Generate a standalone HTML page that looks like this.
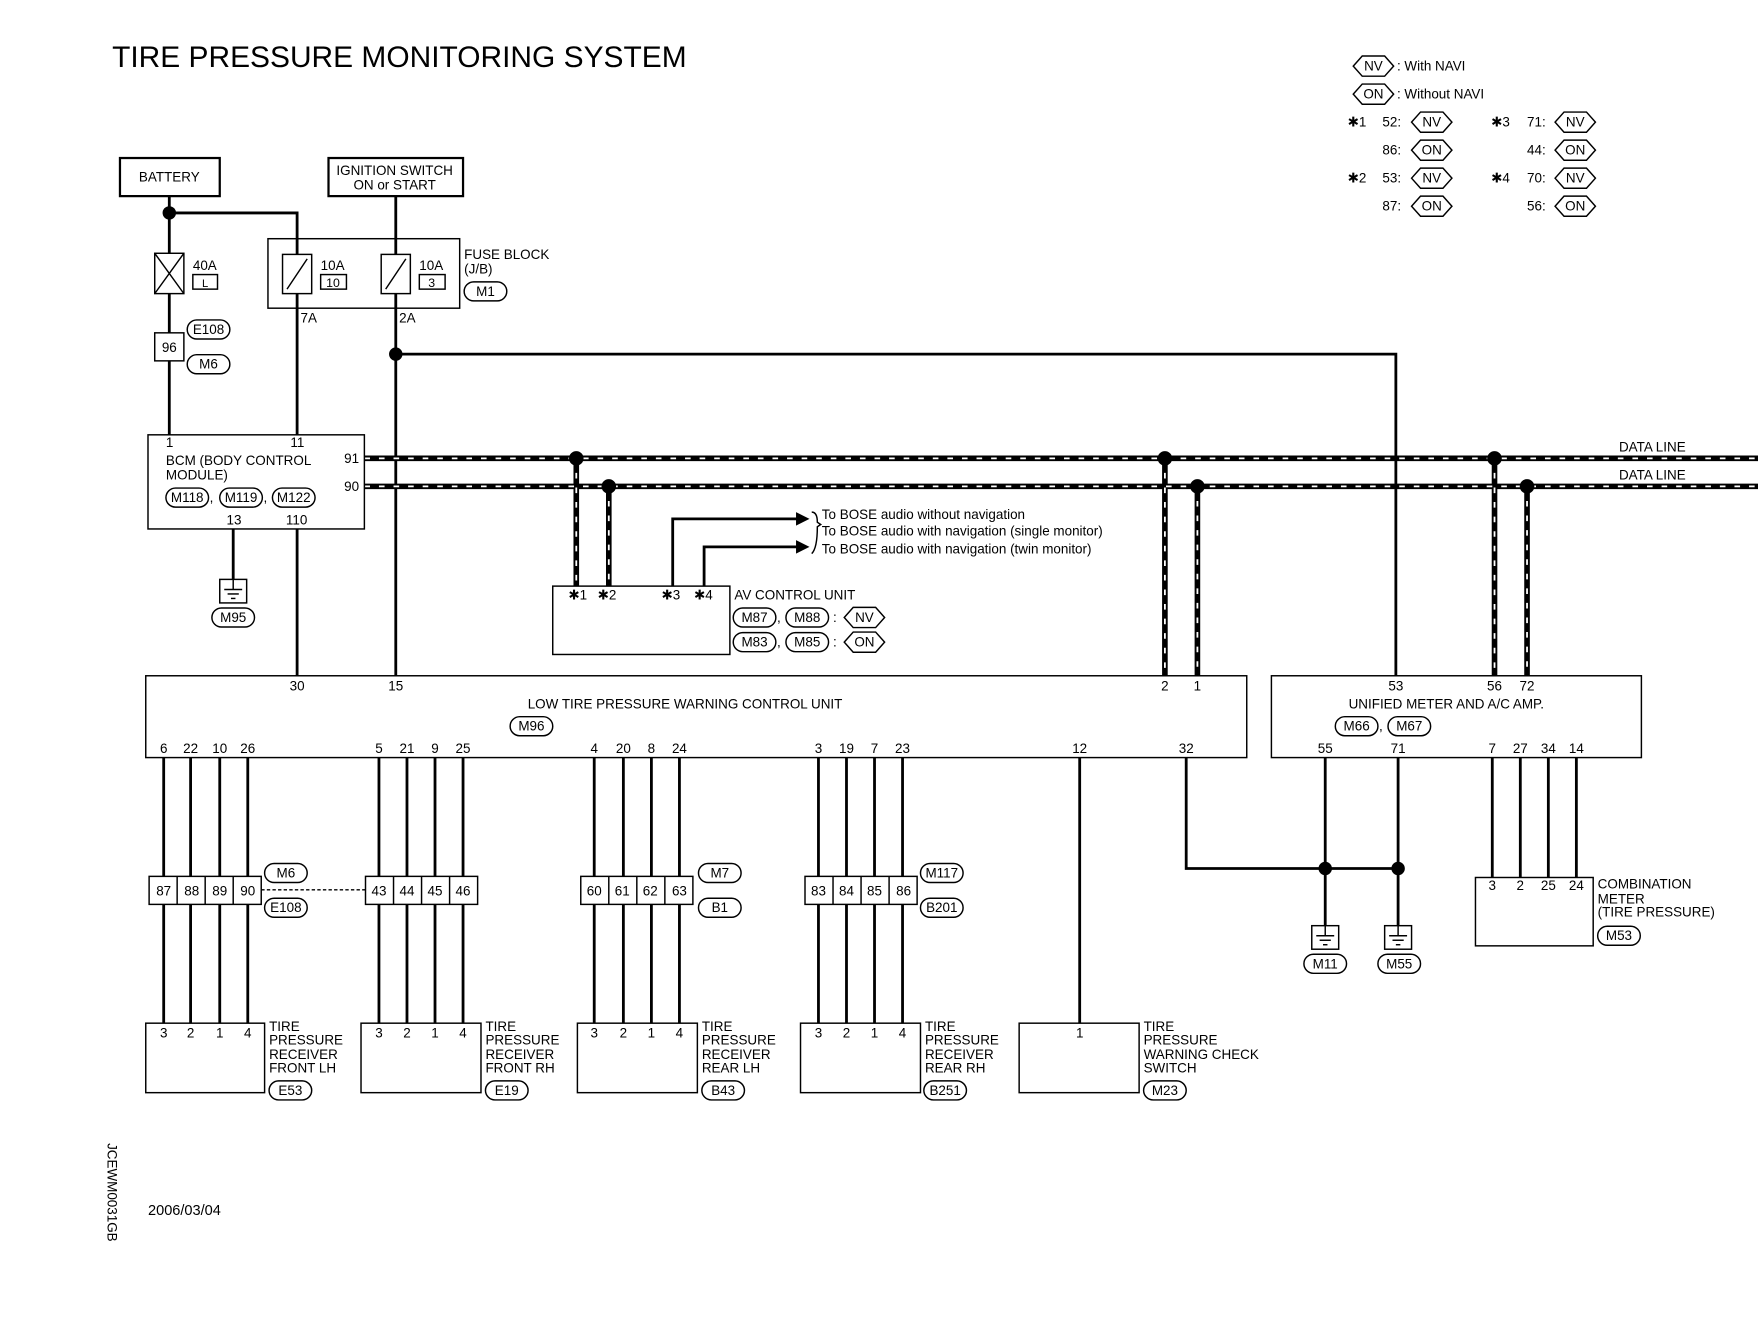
<!DOCTYPE html>
<html><head><meta charset="utf-8"><style>
html,body{margin:0;padding:0;background:#fff}
svg{display:block}
text{font-family:"Liberation Sans",sans-serif;font-size:12px;fill:#000}
.w{stroke:#000;stroke-width:2.5;fill:none}
.t{stroke:#000;stroke-width:1.3;fill:none}
.b{stroke:#000;stroke-width:1.3;fill:#fff}
.dl{stroke:#000;stroke-width:5;fill:none}
.dd{stroke:#fff;stroke-width:1.6;stroke-dasharray:5 8;fill:none}
.c{text-anchor:middle}
</style></head><body>
<svg width="1758" height="1328" viewBox="0 0 1568 1185" preserveAspectRatio="none" xmlns="http://www.w3.org/2000/svg">
<defs>
<g id="pill"><rect x="-19" y="-8.5" width="38" height="17" rx="8.5" class="b"/></g>
<g id="hex"><polygon points="-18,0 -10,-9 10,-9 18,0 10,9 -10,9" class="b"/></g>
<g id="gnd"><rect x="-12" y="0" width="24" height="21" class="b"/><line x1="-8" y1="9" x2="8" y2="9" class="t"/><line x1="-5" y1="13" x2="5" y2="13" class="t"/><line x1="-2" y1="17" x2="2" y2="17" class="t"/><line x1="0" y1="0" x2="0" y2="9" class="t"/></g>
</defs>
<text x="100" y="60" style="font-size:26.7px">TIRE PRESSURE MONITORING SYSTEM</text>

<!-- legend -->
<use href="#hex" x="1225" y="59"/><text x="1225" y="63" class="c">NV</text><text x="1246" y="63">: With NAVI</text>
<use href="#hex" x="1225" y="84"/><text x="1225" y="88" class="c">ON</text><text x="1246" y="88">: Without NAVI</text>
<text x="1202" y="113">✱1</text><text x="1233" y="113">52:</text><use href="#hex" x="1277" y="109"/><text x="1277" y="113" class="c">NV</text>
<text x="1233" y="138">86:</text><use href="#hex" x="1277" y="134"/><text x="1277" y="138" class="c">ON</text>
<text x="1202" y="163">✱2</text><text x="1233" y="163">53:</text><use href="#hex" x="1277" y="159"/><text x="1277" y="163" class="c">NV</text>
<text x="1233" y="188">87:</text><use href="#hex" x="1277" y="184"/><text x="1277" y="188" class="c">ON</text>
<text x="1330" y="113">✱3</text><text x="1362" y="113">71:</text><use href="#hex" x="1405" y="109"/><text x="1405" y="113" class="c">NV</text>
<text x="1362" y="138">44:</text><use href="#hex" x="1405" y="134"/><text x="1405" y="138" class="c">ON</text>
<text x="1330" y="163">✱4</text><text x="1362" y="163">70:</text><use href="#hex" x="1405" y="159"/><text x="1405" y="163" class="c">NV</text>
<text x="1362" y="188">56:</text><use href="#hex" x="1405" y="184"/><text x="1405" y="188" class="c">ON</text>

<!-- battery / ignition -->
<rect x="107" y="141" width="89" height="34" class="t" style="stroke-width:2"/><text x="151" y="162" class="c">BATTERY</text>
<rect x="293" y="141" width="120" height="34" class="t" style="stroke-width:2"/><text x="352" y="156" class="c">IGNITION SWITCH</text><text x="352" y="169" class="c">ON or START</text>
<path d="M151 175V388M151 190H265V213M265 275V388M353 175V603M353 316H1245V603" class="w"/>
<circle cx="151" cy="190" r="6"/><circle cx="353" cy="316" r="6"/>
<rect x="138" y="226" width="26" height="36" class="b"/><path d="M138 226L164 262M164 226L138 262" class="t"/>
<text x="172" y="241">40A</text><rect x="172" y="245" width="22" height="13" class="t"/><text x="183" y="256" class="c" style="font-size:10px">L</text>
<rect x="138" y="297" width="26" height="25" class="b"/><text x="151" y="314" class="c">96</text>
<use href="#pill" x="186" y="294"/><text x="186" y="298" class="c">E108</text>
<use href="#pill" x="186" y="325"/><text x="186" y="329" class="c">M6</text>
<rect x="239" y="213" width="171" height="62" class="b"/>
<rect x="252" y="227" width="26" height="35" class="b"/><line x1="256" y1="258" x2="274" y2="231" class="t"/>
<rect x="340" y="227" width="26" height="35" class="b"/><line x1="344" y1="258" x2="362" y2="231" class="t"/>
<path d="M265 213V227M265 262V275M353 213V227M353 262V275" class="w"/>
<text x="286" y="241">10A</text><rect x="286" y="245" width="23" height="13" class="t"/><text x="297" y="256" class="c" style="font-size:11px">10</text>
<text x="374" y="241">10A</text><rect x="374" y="245" width="23" height="13" class="t"/><text x="385" y="256" class="c" style="font-size:11px">3</text>
<text x="414" y="231">FUSE BLOCK</text><text x="414" y="244">(J/B)</text>
<use href="#pill" x="433" y="260"/><text x="433" y="264" class="c">M1</text>
<text x="268" y="288">7A</text><text x="356" y="288">2A</text>

<!-- data lines -->
<path d="M325 409H1568M325 434H1568M514 409V523M543 434V523M1039 409V603M1068 434V603M1333 409V603M1362 434V603" class="dl"/>
<path d="M325 409H1568M325 434H1568M514 409V523M543 434V523M1039 409V603M1068 434V603M1333 409V603M1362 434V603" class="dd"/>
<circle cx="514" cy="409" r="6.5"/><circle cx="543" cy="434" r="6.5"/><circle cx="1039" cy="409" r="6.5"/><circle cx="1068" cy="434" r="6.5"/><circle cx="1333" cy="409" r="6.5"/><circle cx="1362" cy="434" r="6.5"/>
<text x="1444" y="403">DATA LINE</text><text x="1444" y="428">DATA LINE</text>

<!-- BCM -->
<rect x="132" y="388" width="193" height="84" class="b"/>
<text x="148" y="399">1</text><text x="259" y="399">11</text>
<text x="148" y="415">BCM (BODY CONTROL</text><text x="148" y="428">MODULE)</text>
<use href="#pill" x="167" y="444"/><text x="167" y="448" class="c">M118</text><text x="187" y="448">,</text>
<use href="#pill" x="215" y="444"/><text x="215" y="448" class="c">M119</text><text x="235" y="448">,</text>
<use href="#pill" x="262" y="444"/><text x="262" y="448" class="c">M122</text>
<text x="202" y="468">13</text><text x="255" y="468">110</text>
<text x="307" y="413">91</text><text x="307" y="438">90</text>
<path d="M208 472V517M265 472V603" class="w"/>
<use href="#gnd" x="208" y="517"/><use href="#pill" x="208" y="551"/><text x="208" y="555" class="c">M95</text>

<!-- AV -->
<rect x="493" y="523" width="158" height="61" class="b"/>
<text x="507" y="535">✱1</text><text x="533" y="535">✱2</text><text x="590" y="535">✱3</text><text x="619" y="535">✱4</text>
<path d="M600 523V463H712M628 523V488H712" class="w"/>
<polygon points="722,463 710,457 710,469"/><polygon points="722,488 710,482 710,494"/>
<path d="M724 457Q729 457 729 466L732 468L729 470Q729 489 724 494" class="t"/>
<text x="733" y="463">To BOSE audio without navigation</text>
<text x="733" y="478">To BOSE audio with navigation (single monitor)</text>
<text x="733" y="494">To BOSE audio with navigation (twin monitor)</text>
<text x="655" y="535">AV CONTROL UNIT</text>
<use href="#pill" x="673" y="551"/><text x="673" y="555" class="c">M87</text><text x="693" y="555">,</text>
<use href="#pill" x="720" y="551"/><text x="720" y="555" class="c">M88</text><text x="743" y="555">:</text>
<use href="#hex" x="771" y="551"/><text x="771" y="555" class="c">NV</text>
<use href="#pill" x="673" y="573"/><text x="673" y="577" class="c">M83</text><text x="693" y="577">,</text>
<use href="#pill" x="720" y="573"/><text x="720" y="577" class="c">M85</text><text x="743" y="577">:</text>
<use href="#hex" x="771" y="573"/><text x="771" y="577" class="c">ON</text>

<!-- LTPWCU -->
<rect x="130" y="603" width="982" height="73" class="b"/>
<text x="265" y="616" class="c">30</text><text x="353" y="616" class="c">15</text><text x="1039" y="616" class="c">2</text><text x="1068" y="616" class="c">1</text>
<text x="611" y="632" class="c">LOW TIRE PRESSURE WARNING CONTROL UNIT</text>
<use href="#pill" x="474" y="648"/><text x="474" y="652" class="c">M96</text>
<g class="c">
<text x="146" y="672">6</text><text x="170" y="672">22</text><text x="196" y="672">10</text><text x="221" y="672">26</text>
<text x="338" y="672">5</text><text x="363" y="672">21</text><text x="388" y="672">9</text><text x="413" y="672">25</text>
<text x="530" y="672">4</text><text x="556" y="672">20</text><text x="581" y="672">8</text><text x="606" y="672">24</text>
<text x="730" y="672">3</text><text x="755" y="672">19</text><text x="780" y="672">7</text><text x="805" y="672">23</text>
<text x="963" y="672">12</text><text x="1058" y="672">32</text>
</g>

<!-- Unified meter -->
<rect x="1134" y="603" width="330" height="73" class="b"/>
<g class="c"><text x="1245" y="616">53</text><text x="1333" y="616">56</text><text x="1362" y="616">72</text></g>
<text x="1290" y="632" class="c">UNIFIED METER AND A/C AMP.</text>
<use href="#pill" x="1210" y="648"/><text x="1210" y="652" class="c">M66</text><text x="1230" y="652">,</text>
<use href="#pill" x="1257" y="648"/><text x="1257" y="652" class="c">M67</text>
<g class="c"><text x="1182" y="672">55</text><text x="1247" y="672">71</text><text x="1331" y="672">7</text><text x="1356" y="672">27</text><text x="1381" y="672">34</text><text x="1406" y="672">14</text></g>

<!-- wires down -->
<path d="M146 676V913M170 676V913M196 676V913M221 676V913M338 676V913M363 676V913M388 676V913M413 676V913M530 676V913M556 676V913M581 676V913M606 676V913M730 676V913M755 676V913M780 676V913M805 676V913M963 676V913M1058 676V775H1247M1182 676V826M1247 676V826M1331 676V783M1356 676V783M1381 676V783M1406 676V783" class="w"/>
<circle cx="1182" cy="775" r="6"/><circle cx="1247" cy="775" r="6"/>
<use href="#gnd" x="1182" y="826"/><use href="#pill" x="1182" y="860"/><text x="1182" y="864" class="c">M11</text>
<use href="#gnd" x="1247" y="826"/><use href="#pill" x="1248" y="860"/><text x="1248" y="864" class="c">M55</text>

<!-- connectors -->
<g>
<rect x="133" y="782" width="100" height="25" class="b"/><path d="M158 782V807M183 782V807M208 782V807" class="t"/>
<rect x="326" y="782" width="100" height="25" class="b"/><path d="M351 782V807M376 782V807M401 782V807" class="t"/>
<rect x="518" y="782" width="100" height="25" class="b"/><path d="M543 782V807M568 782V807M593 782V807" class="t"/>
<rect x="718" y="782" width="100" height="25" class="b"/><path d="M743 782V807M768 782V807M793 782V807" class="t"/>
</g>
<line x1="233" y1="794" x2="326" y2="794" class="t" style="stroke-dasharray:3 2"/>
<g class="c">
<text x="146" y="799">87</text><text x="171" y="799">88</text><text x="196" y="799">89</text><text x="221" y="799">90</text>
<text x="338" y="799">43</text><text x="363" y="799">44</text><text x="388" y="799">45</text><text x="413" y="799">46</text>
<text x="530" y="799">60</text><text x="555" y="799">61</text><text x="580" y="799">62</text><text x="606" y="799">63</text>
<text x="730" y="799">83</text><text x="755" y="799">84</text><text x="780" y="799">85</text><text x="806" y="799">86</text>
</g>
<use href="#pill" x="255" y="779"/><text x="255" y="783" class="c">M6</text>
<use href="#pill" x="255" y="810"/><text x="255" y="814" class="c">E108</text>
<use href="#pill" x="642" y="779"/><text x="642" y="783" class="c">M7</text>
<use href="#pill" x="642" y="810"/><text x="642" y="814" class="c">B1</text>
<use href="#pill" x="840" y="779"/><text x="840" y="783" class="c">M117</text>
<use href="#pill" x="840" y="810"/><text x="840" y="814" class="c">B201</text>

<!-- receivers -->
<rect x="130" y="913" width="106" height="62" class="b"/>
<rect x="322" y="913" width="107" height="62" class="b"/>
<rect x="515" y="913" width="107" height="62" class="b"/>
<rect x="714" y="913" width="107" height="62" class="b"/>
<rect x="909" y="913" width="107" height="62" class="b"/>
<g class="c">
<text x="146" y="926">3</text><text x="170" y="926">2</text><text x="196" y="926">1</text><text x="221" y="926">4</text>
<text x="338" y="926">3</text><text x="363" y="926">2</text><text x="388" y="926">1</text><text x="413" y="926">4</text>
<text x="530" y="926">3</text><text x="556" y="926">2</text><text x="581" y="926">1</text><text x="606" y="926">4</text>
<text x="730" y="926">3</text><text x="755" y="926">2</text><text x="780" y="926">1</text><text x="805" y="926">4</text>
<text x="963" y="926">1</text>
</g>
<g>
<text x="240" y="920">TIRE</text><text x="240" y="932">PRESSURE</text><text x="240" y="945">RECEIVER</text><text x="240" y="957">FRONT LH</text>
<text x="433" y="920">TIRE</text><text x="433" y="932">PRESSURE</text><text x="433" y="945">RECEIVER</text><text x="433" y="957">FRONT RH</text>
<text x="626" y="920">TIRE</text><text x="626" y="932">PRESSURE</text><text x="626" y="945">RECEIVER</text><text x="626" y="957">REAR LH</text>
<text x="825" y="920">TIRE</text><text x="825" y="932">PRESSURE</text><text x="825" y="945">RECEIVER</text><text x="825" y="957">REAR RH</text>
<text x="1020" y="920">TIRE</text><text x="1020" y="932">PRESSURE</text><text x="1020" y="945">WARNING CHECK</text><text x="1020" y="957">SWITCH</text>
</g>
<use href="#pill" x="259" y="973"/><text x="259" y="977" class="c">E53</text>
<use href="#pill" x="452" y="973"/><text x="452" y="977" class="c">E19</text>
<use href="#pill" x="645" y="973"/><text x="645" y="977" class="c">B43</text>
<use href="#pill" x="843" y="973"/><text x="843" y="977" class="c">B251</text>
<use href="#pill" x="1039" y="973"/><text x="1039" y="977" class="c">M23</text>

<!-- combination meter -->
<rect x="1316" y="783" width="105" height="61" class="b"/>
<g class="c"><text x="1331" y="794">3</text><text x="1356" y="794">2</text><text x="1381" y="794">25</text><text x="1406" y="794">24</text></g>
<text x="1425" y="793">COMBINATION</text><text x="1425" y="806">METER</text><text x="1425" y="818">(TIRE PRESSURE)</text>
<use href="#pill" x="1444" y="835"/><text x="1444" y="839" class="c">M53</text>

<text transform="translate(96,1020) rotate(90)">JCEWM0031GB</text>
<text x="132" y="1084" style="font-size:13px">2006/03/04</text>
</svg>
</body></html>
